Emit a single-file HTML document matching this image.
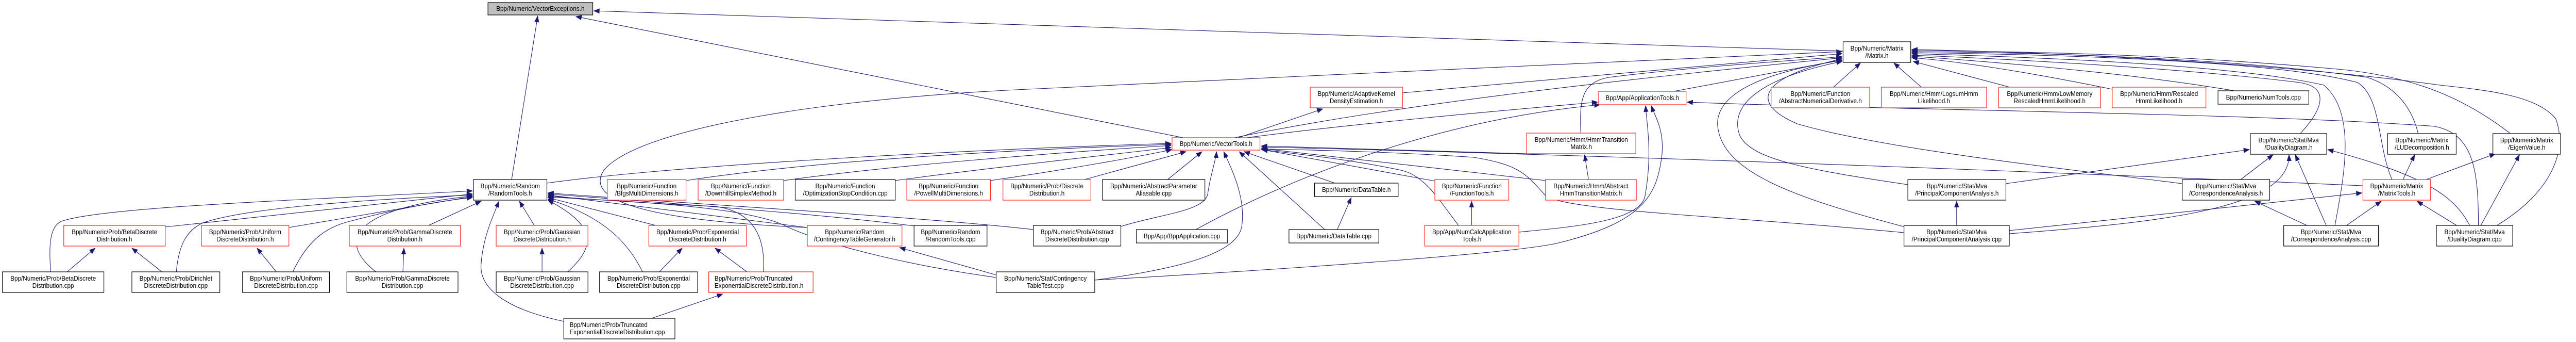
<!DOCTYPE html>
<html><head><meta charset="utf-8"><style>
html,body{margin:0;padding:0;background:#fff;width:100%;height:100%;overflow:hidden;}
svg{display:block;width:100vw;height:100vh;}
text{font-family:"Liberation Sans",Arial,sans-serif;font-size:12.5px;fill:#000;}
.n rect{fill:#fff;stroke:#000;stroke-width:1.2;}
.r rect{fill:#fff;stroke:#ff1a1a;stroke-width:1.2;}
.e path{fill:none;stroke:#191970;stroke-width:1.1;}
</style></head><body>
<svg viewBox="0 0 5332 663" preserveAspectRatio="none" xmlns="http://www.w3.org/2000/svg" overflow="hidden">
<defs><marker id="a" markerWidth="13" markerHeight="10" refX="12" refY="5" orient="auto" markerUnits="userSpaceOnUse"><path d="M0,0 L13,5 L0,10z" fill="#191970"/></marker></defs>
<g class="e" marker-end="url(#a)">
<path d="M1059,348 L1113,31"/>
<path d="M3815,99 C3000,75 2000,45 1229,21"/>
<path d="M2449,267 L1192,32"/>
<path d="M105,527 C100,470 105,440 125,430 C200,400 700,385 978,370"/>
<path d="M342,440 L978,376"/>
<path d="M365,527 C370,470 390,445 420,432 C520,400 800,385 978,378"/>
<path d="M598,441 L978,381"/>
<path d="M606,527 C640,460 680,440 720,430 C800,410 900,390 978,383"/>
<path d="M778,527 C700,470 720,405 978,380"/>
<path d="M887,437 L996,390"/>
<path d="M1106,437 L1075,390"/>
<path d="M1167,623 C1050,600 990,560 996,510 C1000,460 1020,420 1033,390"/>
<path d="M1175,527 C1230,480 1240,440 1134,388"/>
<path d="M1357,437 L1134,383"/>
<path d="M1330,527 C1300,470 1250,420 1134,386"/>
<path d="M1580,527 C1585,460 1560,410 1480,400 C1350,395 1200,385 1134,380"/>
<path d="M1671,441 L1134,378"/>
<path d="M1892,438 C1700,415 1400,395 1134,376"/>
<path d="M2139,445 C1900,420 1500,400 1134,374"/>
<path d="M2062,538 C1850,510 1700,470 1630,440 C1550,400 1300,390 1134,382"/>
<path d="M1132,355 C1400,320 2000,290 2424,278"/>
<path d="M1420,350 C1700,310 2100,290 2424,280"/>
<path d="M1622,350 C1850,320 2200,295 2424,282"/>
<path d="M1853,350 C2050,325 2300,300 2424,286"/>
<path d="M2050,350 C2200,330 2350,305 2426,290"/>
<path d="M2245,348 L2455,294"/>
<path d="M2417,348 L2488,294"/>
<path d="M2320,439 C2400,415 2495,410 2500,375 C2505,340 2517,310 2518,294"/>
<path d="M2266,543 C2450,520 2560,490 2570,440 C2580,380 2545,320 2533,294"/>
<path d="M2742,445 L2565,294"/>
<path d="M2763,355 L2575,294"/>
<path d="M2970,351 L2612,290"/>
<path d="M3019,437 C2980,390 2950,340 2900,330 C2800,310 2700,300 2611,290"/>
<path d="M3160,298 L2611,283"/>
<path d="M3199,350 L2611,288"/>
<path d="M3941,451 C3600,420 3250,410 3200,380 C3160,340 3150,320 3050,305 C2900,295 2700,290 2611,289"/>
<path d="M4891,360 C4400,340 3500,305 2611,285"/>
<path d="M2563,267 L2738,211"/>
<path d="M2555,267 C2900,200 3400,150 3813,112"/>
<path d="M2903,180 L3813,104"/>
<path d="M1671,441 C1400,430 1200,400 1250,330 C1320,250 1700,190 2150,172 C2700,145 3300,125 3813,100"/>
<path d="M3465,177 L3813,116"/>
<path d="M3272,258 C3270,200 3270,160 3330,150 C3500,130 3700,118 3813,110"/>
<path d="M3949,358 C3750,330 3620,310 3600,260 C3580,200 3650,150 3813,119"/>
<path d="M3943,440 C3700,380 3560,330 3555,240 C3555,180 3650,140 3813,117"/>
<path d="M4517,356 C4300,330 3900,290 3720,240 C3620,200 3640,150 3813,114"/>
<path d="M3795,169 L3851,122"/>
<path d="M3977,169 L3920,122"/>
<path d="M4160,169 L3960,119"/>
<path d="M4372,173 C4200,140 4050,118 3957,112"/>
<path d="M4625,176 C4400,140 4100,118 3957,109"/>
<path d="M4762,258 C4800,220 4830,170 4760,160 C4500,130 4100,112 3957,107"/>
<path d="M4833,437 C4850,350 4880,220 4810,165 C4600,120 4100,108 3957,104"/>
<path d="M4951,348 C4920,280 4930,190 4880,160 C4700,115 4200,105 3957,102"/>
<path d="M5005,258 C4990,200 4950,165 4900,150 C4600,110 4200,102 3957,100"/>
<path d="M5195,258 C5100,190 5000,150 4850,135 C4500,105 4200,100 3957,98"/>
<path d="M5168,437 C5270,380 5318,300 5290,230 C5250,185 5150,175 5050,165 C4700,120 4200,100 3957,96"/>
<path d="M2580,267 C2800,240 3100,215 3307,198"/>
<path d="M2475,445 C2700,330 3000,230 3312,203"/>
<path d="M3144,450 C3250,440 3395,430 3405,380 C3420,300 3410,250 3406,205"/>
<path d="M2266,543 C2700,520 3150,490 3230,470 C3400,430 3430,380 3440,300 C3445,250 3425,225 3418,205"/>
<path d="M5130,437 C5130,330 5120,260 5040,245 C4700,220 3900,213 3492,198"/>
<path d="M2768,445 L2797,383"/>
<path d="M3046,437 L3046,390"/>
<path d="M3288,348 L3280,300"/>
<path d="M4050,437 L4050,390"/>
<path d="M4152,356 L4656,290"/>
<path d="M4159,453 C4500,430 4740,400 4738,300"/>
<path d="M4159,447 L4889,374"/>
<path d="M4638,348 L4705,300"/>
<path d="M4775,437 L4667,390"/>
<path d="M4815,437 L4751,300"/>
<path d="M4857,437 L4929,390"/>
<path d="M5112,437 C5080,380 5020,340 4818,290"/>
<path d="M5085,437 L5003,390"/>
<path d="M5135,437 L5215,300"/>
<path d="M4974,348 L4998,300"/>
<path d="M5022,348 L5165,298"/>
<path d="M139,527 L197,481"/>
<path d="M335,527 L273,481"/>
<path d="M572,527 L532,481"/>
<path d="M834,527 L836,481"/>
<path d="M1122,527 L1122,481"/>
<path d="M1365,527 L1412,481"/>
<path d="M1546,527 L1480,481"/>
<path d="M1349,617 L1496,570"/>
<path d="M2062,533 L1862,480"/>
</g>

<g class="n"><rect x="1010" y="5" width="217" height="24" style="fill:#bfbfbf"/><text x="1118.5" y="21" text-anchor="middle">Bpp/Numeric/VectorExceptions.h</text></g>
<g class="n"><rect x="980" y="348" width="152" height="40"/><text x="1056" y="365" text-anchor="middle">Bpp/Numeric/Random</text><text x="1056" y="379" text-anchor="middle">/RandomTools.h</text></g>
<g class="n"><rect x="3815" y="81" width="140" height="40"/><text x="3885" y="98" text-anchor="middle">Bpp/Numeric/Matrix</text><text x="3885" y="112" text-anchor="middle">/Matrix.h</text></g>
<g class="r"><rect x="2426" y="267" width="182" height="24"/><text x="2517" y="283" text-anchor="middle">Bpp/Numeric/VectorTools.h</text></g>
<g class="r"><rect x="2712" y="169" width="191" height="40"/><text x="2807.5" y="186" text-anchor="middle">Bpp/Numeric/AdaptiveKernel</text><text x="2807.5" y="200" text-anchor="middle">DensityEstimation.h</text></g>
<g class="r"><rect x="3309" y="177" width="181" height="26"/><text x="3399.5" y="194" text-anchor="middle">Bpp/App/ApplicationTools.h</text></g>
<g class="r"><rect x="3666" y="169" width="204" height="40"/><text x="3768" y="186" text-anchor="middle">Bpp/Numeric/Function</text><text x="3768" y="200" text-anchor="middle">/AbstractNumericalDerivative.h</text></g>
<g class="r"><rect x="3894" y="169" width="218" height="40"/><text x="4003" y="186" text-anchor="middle">Bpp/Numeric/Hmm/LogsumHmm</text><text x="4003" y="200" text-anchor="middle">Likelihood.h</text></g>
<g class="r"><rect x="4137" y="169" width="211" height="40"/><text x="4242.5" y="186" text-anchor="middle">Bpp/Numeric/Hmm/LowMemory</text><text x="4242.5" y="200" text-anchor="middle">RescaledHmmLikelihood.h</text></g>
<g class="r"><rect x="4372" y="169" width="194" height="40"/><text x="4469" y="186" text-anchor="middle">Bpp/Numeric/Hmm/Rescaled</text><text x="4469" y="200" text-anchor="middle">HmmLikelihood.h</text></g>
<g class="n"><rect x="4591" y="176" width="188" height="26"/><text x="4685" y="193" text-anchor="middle">Bpp/Numeric/NumTools.cpp</text></g>
<g class="r"><rect x="3160" y="258" width="226" height="40"/><text x="3273" y="275" text-anchor="middle">Bpp/Numeric/Hmm/HmmTransition</text><text x="3273" y="289" text-anchor="middle">Matrix.h</text></g>
<g class="n"><rect x="4658" y="259" width="158" height="40"/><text x="4737" y="276" text-anchor="middle">Bpp/Numeric/Stat/Mva</text><text x="4737" y="290" text-anchor="middle">/DualityDiagram.h</text></g>
<g class="n"><rect x="4942" y="259" width="142" height="40"/><text x="5013" y="276" text-anchor="middle">Bpp/Numeric/Matrix</text><text x="5013" y="290" text-anchor="middle">/LUDecomposition.h</text></g>
<g class="n"><rect x="5160" y="259" width="140" height="40"/><text x="5230" y="276" text-anchor="middle">Bpp/Numeric/Matrix</text><text x="5230" y="290" text-anchor="middle">/EigenValue.h</text></g>

<g class="r"><rect x="1257" y="348" width="163" height="40"/><text x="1338.5" y="365" text-anchor="middle">Bpp/Numeric/Function</text><text x="1338.5" y="379" text-anchor="middle">/BfgsMultiDimensions.h</text></g>
<g class="r"><rect x="1445" y="348" width="177" height="40"/><text x="1533.5" y="365" text-anchor="middle">Bpp/Numeric/Function</text><text x="1533.5" y="379" text-anchor="middle">/DownhillSimplexMethod.h</text></g>
<g class="n"><rect x="1646" y="348" width="207" height="40"/><text x="1749.5" y="365" text-anchor="middle">Bpp/Numeric/Function</text><text x="1749.5" y="379" text-anchor="middle">/OptimizationStopCondition.cpp</text></g>
<g class="r"><rect x="1877" y="348" width="173" height="40"/><text x="1963.5" y="365" text-anchor="middle">Bpp/Numeric/Function</text><text x="1963.5" y="379" text-anchor="middle">/PowellMultiDimensions.h</text></g>
<g class="r"><rect x="2076" y="348" width="182" height="40"/><text x="2167" y="365" text-anchor="middle">Bpp/Numeric/Prob/Discrete</text><text x="2167" y="379" text-anchor="middle">Distribution.h</text></g>
<g class="n"><rect x="2282" y="348" width="212" height="40"/><text x="2388" y="365" text-anchor="middle">Bpp/Numeric/AbstractParameter</text><text x="2388" y="379" text-anchor="middle">Aliasable.cpp</text></g>
<g class="n"><rect x="2721" y="355" width="173" height="26"/><text x="2807.5" y="372" text-anchor="middle">Bpp/Numeric/DataTable.h</text></g>
<g class="r"><rect x="2970" y="348" width="153" height="40"/><text x="3046.5" y="365" text-anchor="middle">Bpp/Numeric/Function</text><text x="3046.5" y="379" text-anchor="middle">/FunctionTools.h</text></g>
<g class="r"><rect x="3199" y="348" width="188" height="40"/><text x="3293" y="365" text-anchor="middle">Bpp/Numeric/Hmm/Abstract</text><text x="3293" y="379" text-anchor="middle">HmmTransitionMatrix.h</text></g>
<g class="n"><rect x="3949" y="348" width="203" height="40"/><text x="4050.5" y="365" text-anchor="middle">Bpp/Numeric/Stat/Mva</text><text x="4050.5" y="379" text-anchor="middle">/PrincipalComponentAnalysis.h</text></g>
<g class="n"><rect x="4517" y="348" width="181" height="40"/><text x="4607.5" y="365" text-anchor="middle">Bpp/Numeric/Stat/Mva</text><text x="4607.5" y="379" text-anchor="middle">/CorrespondenceAnalysis.h</text></g>
<g class="r"><rect x="4891" y="348" width="140" height="40"/><text x="4961" y="365" text-anchor="middle">Bpp/Numeric/Matrix</text><text x="4961" y="379" text-anchor="middle">/MatrixTools.h</text></g>

<g class="r"><rect x="132" y="437" width="210" height="40"/><text x="237" y="454" text-anchor="middle">Bpp/Numeric/Prob/BetaDiscrete</text><text x="237" y="468" text-anchor="middle">Distribution.h</text></g>
<g class="r"><rect x="417" y="437" width="181" height="40"/><text x="507.5" y="454" text-anchor="middle">Bpp/Numeric/Prob/Uniform</text><text x="507.5" y="468" text-anchor="middle">DiscreteDistribution.h</text></g>
<g class="r"><rect x="723" y="437" width="230" height="40"/><text x="838" y="454" text-anchor="middle">Bpp/Numeric/Prob/GammaDiscrete</text><text x="838" y="468" text-anchor="middle">Distribution.h</text></g>
<g class="r"><rect x="1027" y="437" width="190" height="40"/><text x="1122" y="454" text-anchor="middle">Bpp/Numeric/Prob/Gaussian</text><text x="1122" y="468" text-anchor="middle">DiscreteDistribution.h</text></g>
<g class="r"><rect x="1343" y="437" width="202" height="40"/><text x="1444" y="454" text-anchor="middle">Bpp/Numeric/Prob/Exponential</text><text x="1444" y="468" text-anchor="middle">DiscreteDistribution.h</text></g>
<g class="r"><rect x="1671" y="437" width="196" height="40"/><text x="1769" y="454" text-anchor="middle">Bpp/Numeric/Random</text><text x="1769" y="468" text-anchor="middle">/ContingencyTableGenerator.h</text></g>
<g class="n"><rect x="1892" y="437" width="151" height="40"/><text x="1967.5" y="454" text-anchor="middle">Bpp/Numeric/Random</text><text x="1967.5" y="468" text-anchor="middle">/RandomTools.cpp</text></g>
<g class="n"><rect x="2139" y="437" width="181" height="40"/><text x="2229.5" y="454" text-anchor="middle">Bpp/Numeric/Prob/Abstract</text><text x="2229.5" y="468" text-anchor="middle">DiscreteDistribution.cpp</text></g>
<g class="n"><rect x="2352" y="445" width="189" height="26"/><text x="2446.5" y="462" text-anchor="middle">Bpp/App/BppApplication.cpp</text></g>
<g class="n"><rect x="2668" y="445" width="186" height="26"/><text x="2761" y="462" text-anchor="middle">Bpp/Numeric/DataTable.cpp</text></g>
<g class="r"><rect x="2949" y="437" width="195" height="40"/><text x="3046.5" y="454" text-anchor="middle">Bpp/App/NumCalcApplication</text><text x="3046.5" y="468" text-anchor="middle">Tools.h</text></g>
<g class="n"><rect x="3941" y="437" width="218" height="40"/><text x="4050" y="454" text-anchor="middle">Bpp/Numeric/Stat/Mva</text><text x="4050" y="468" text-anchor="middle">/PrincipalComponentAnalysis.cpp</text></g>
<g class="n"><rect x="4727" y="437" width="196" height="40"/><text x="4825" y="454" text-anchor="middle">Bpp/Numeric/Stat/Mva</text><text x="4825" y="468" text-anchor="middle">/CorrespondenceAnalysis.cpp</text></g>
<g class="n"><rect x="5043" y="437" width="158" height="40"/><text x="5122" y="454" text-anchor="middle">Bpp/Numeric/Stat/Mva</text><text x="5122" y="468" text-anchor="middle">/DualityDiagram.cpp</text></g>

<g class="n"><rect x="5" y="527" width="210" height="40"/><text x="110" y="544" text-anchor="middle">Bpp/Numeric/Prob/BetaDiscrete</text><text x="110" y="558" text-anchor="middle">Distribution.cpp</text></g>
<g class="n"><rect x="273" y="527" width="182" height="40"/><text x="364" y="544" text-anchor="middle">Bpp/Numeric/Prob/Dirichlet</text><text x="364" y="558" text-anchor="middle">DiscreteDistribution.cpp</text></g>
<g class="n"><rect x="502" y="527" width="180" height="40"/><text x="592" y="544" text-anchor="middle">Bpp/Numeric/Prob/Uniform</text><text x="592" y="558" text-anchor="middle">DiscreteDistribution.cpp</text></g>
<g class="n"><rect x="718" y="527" width="230" height="40"/><text x="833" y="544" text-anchor="middle">Bpp/Numeric/Prob/GammaDiscrete</text><text x="833" y="558" text-anchor="middle">Distribution.cpp</text></g>
<g class="n"><rect x="1027" y="527" width="190" height="40"/><text x="1122" y="544" text-anchor="middle">Bpp/Numeric/Prob/Gaussian</text><text x="1122" y="558" text-anchor="middle">DiscreteDistribution.cpp</text></g>
<g class="n"><rect x="1241" y="527" width="203" height="40"/><text x="1342.5" y="544" text-anchor="middle">Bpp/Numeric/Prob/Exponential</text><text x="1342.5" y="558" text-anchor="middle">DiscreteDistribution.cpp</text></g>
<g class="r"><rect x="1467" y="527" width="216" height="40"/><text x="1479" y="544">Bpp/Numeric/Prob/Truncated</text><text x="1479" y="558">ExponentialDiscreteDistribution.h</text></g>
<g class="n"><rect x="2062" y="527" width="204" height="40"/><text x="2164" y="544" text-anchor="middle">Bpp/Numeric/Stat/Contingency</text><text x="2164" y="558" text-anchor="middle">TableTest.cpp</text></g>
<g class="n"><rect x="1167" y="617" width="230" height="40"/><text x="1179" y="634">Bpp/Numeric/Prob/Truncated</text><text x="1179" y="648">ExponentialDiscreteDistribution.cpp</text></g>
</svg>
</body></html>
